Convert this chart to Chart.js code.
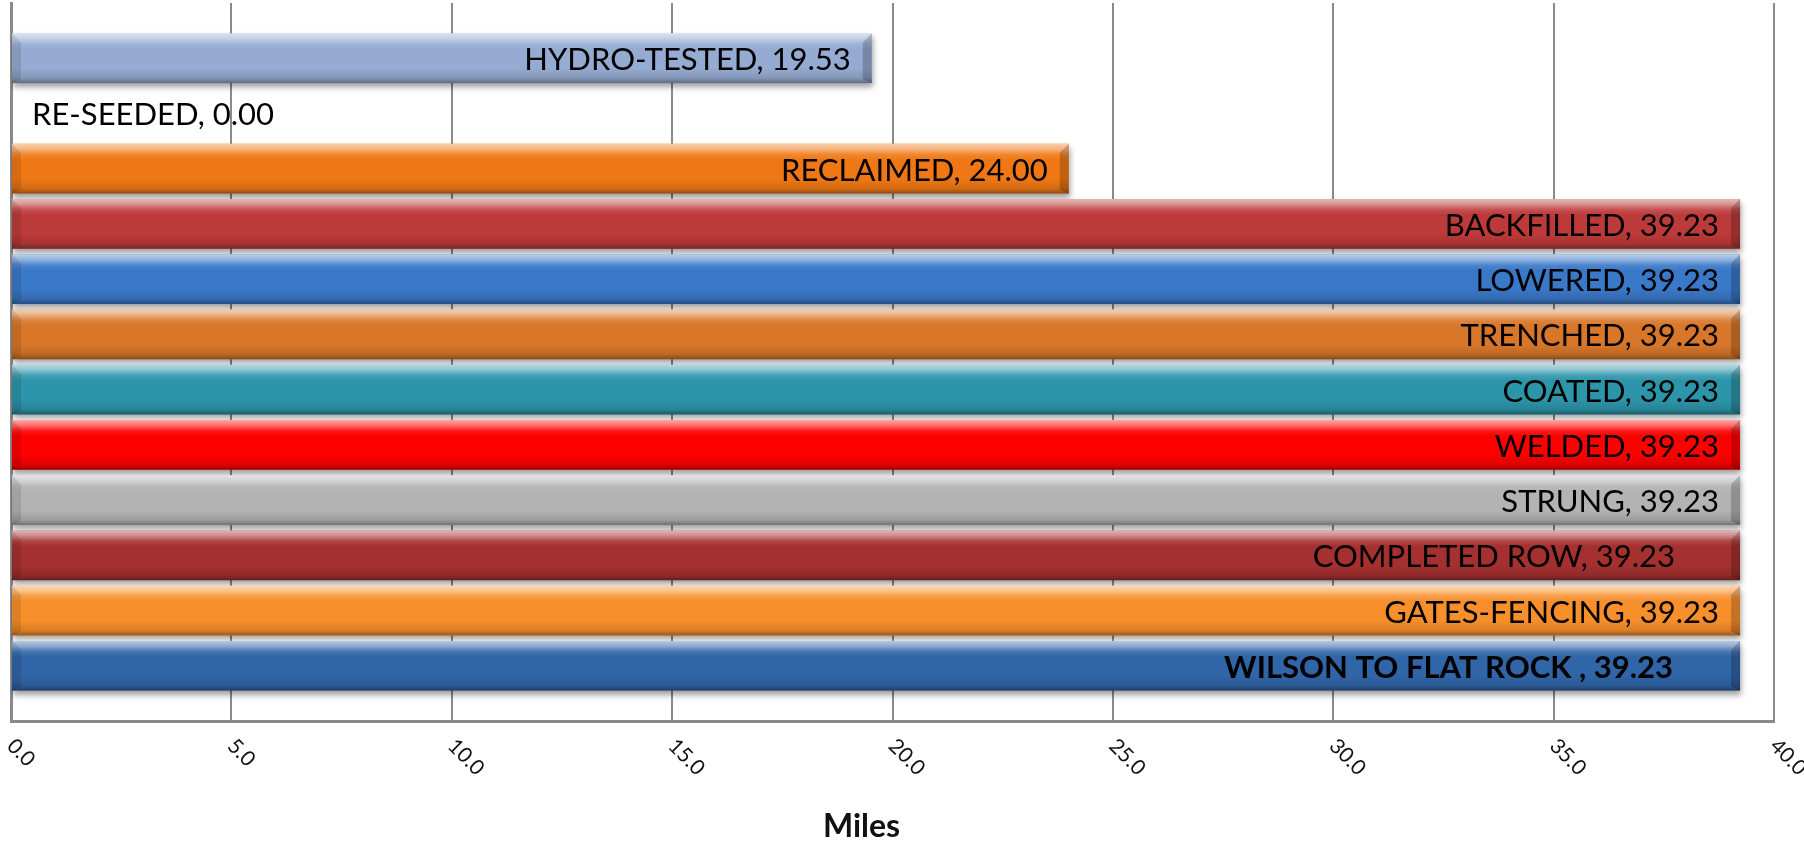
<!DOCTYPE html>
<html>
<head>
<meta charset="utf-8">
<title>Wilson to Flat Rock — progress</title>
<script src="https://cdn.jsdelivr.net/npm/chart.js@4.4.1/dist/chart.umd.min.js"></script>
<style>
  html, body { margin: 0; padding: 0; background: #fff; }
  #wrap { position: relative; width: 1804px; height: 841px; }
</style>
</head>
<body>
<div id="wrap"><canvas id="chart"></canvas></div>
<script>
// ---- Data, top to bottom as in the chart ----
const categories = [
  'HYDRO-TESTED', 'RE-SEEDED', 'RECLAIMED', 'BACKFILLED', 'LOWERED', 'TRENCHED',
  'COATED', 'WELDED', 'STRUNG', 'COMPLETED ROW', 'GATES-FENCING', 'WILSON TO FLAT ROCK '
];
const miles = [19.53, 0.00, 24.00, 39.23, 39.23, 39.23, 39.23, 39.23, 39.23, 39.23, 39.23, 39.23];
const barColors = [
  '#95abd1', '#95abd1', '#f07814', '#bd3a3a', '#3a78c8', '#d8772a',
  '#2c95aa', '#fe0000', '#b3b3b3', '#a53030', '#f78f2b', '#3065a8'
];
const xTicks = [0, 5, 10, 15, 20, 25, 30, 35, 40];
const axisTitle = 'Miles';

const FONT = 'Lato, "Open Sans", sans-serif';
const GRID = '#8a8a8a';

// blank slot above and below so bars sit half a row in from the plot edges
const rowLabels = ['', ...categories, ''];
const rowValues = [null, ...miles, null];
const rowColors = ['#fff', ...barColors, '#fff'];

// ---- Bar shading: drop shadow + bevel overlay ----
const bevelPlugin = {
  id: 'bevel',
  beforeDatasetsDraw(chart) {
    const ctx = chart.ctx;
    ctx.save();
    ctx.shadowColor = 'rgba(0,0,0,0.38)';
    ctx.shadowBlur = 6;
    ctx.shadowOffsetY = 4;
    ctx.shadowOffsetX = 1;
  },
  afterDatasetsDraw(chart) {
    const ctx = chart.ctx;
    ctx.restore();
    chart.getDatasetMeta(0).data.forEach((bar, i) => {
      if (rowValues[i] == null) return;
      const { x, y, base, height } = bar.getProps(['x', 'y', 'base', 'height'], true);
      const len = x - base;
      if (len < 1) return;
      const top = y - height / 2, bot = y + height / 2;
      const g = ctx.createLinearGradient(0, top, 0, bot);
      g.addColorStop(0, 'rgba(255,255,255,0.65)');
      g.addColorStop(0.1, 'rgba(255,255,255,0.45)');
      g.addColorStop(0.22, 'rgba(255,255,255,0.10)');
      g.addColorStop(0.32, 'rgba(255,255,255,0)');
      g.addColorStop(0.7, 'rgba(0,0,0,0)');
      g.addColorStop(0.9, 'rgba(0,0,0,0.12)');
      g.addColorStop(1, 'rgba(0,0,0,0.38)');
      ctx.save();
      ctx.fillStyle = g;
      ctx.fillRect(base, top, len, height);
      const b = Math.min(9, len / 2);
      // left end face
      ctx.fillStyle = 'rgba(0,0,0,0.10)';
      ctx.beginPath();
      ctx.moveTo(base, top); ctx.lineTo(base + b, top + b);
      ctx.lineTo(base + b, bot - 4); ctx.lineTo(base, bot);
      ctx.closePath(); ctx.fill();
      // right end face
      ctx.fillStyle = 'rgba(0,0,0,0.20)';
      ctx.beginPath();
      ctx.moveTo(x, top); ctx.lineTo(x - b, top + b);
      ctx.lineTo(x - b, bot - 4); ctx.lineTo(x, bot);
      ctx.closePath(); ctx.fill();
      ctx.restore();
    });
  }
};

// ---- Data labels "NAME, value" inside the bar end ----
const labelPlugin = {
  id: 'barLabels',
  afterDatasetsDraw(chart, args, opts) {
    const ctx = chart.ctx;
    ctx.save();
    ctx.fillStyle = '#000';
    ctx.textBaseline = 'alphabetic';
    chart.getDatasetMeta(0).data.forEach((bar, i) => {
      if (rowValues[i] == null) return;
      const k = i - 1;
      const { x, y, base } = bar.getProps(['x', 'y', 'base'], true);
      const text = categories[k] + ', ' + miles[k].toFixed(2);
      ctx.font = (k === opts.boldIndex ? 'bold ' : '') + opts.size + 'px ' + FONT;
      const w = ctx.measureText(text).width;
      const shift = opts.nudge[k] || 0;
      const ty = y + opts.drop;
      if (w + opts.pad * 2 < x - base) {
        ctx.textAlign = 'right';
        ctx.fillText(text, x - opts.pad - shift, ty);
      } else {
        ctx.textAlign = 'left';
        ctx.fillText(text, x + opts.pad, ty);
      }
    });
    ctx.restore();
  }
};

// ---- X tick labels turned 45° clockwise + axis title ----
const axisPlugin = {
  id: 'axisText',
  afterDraw(chart) {
    const ctx = chart.ctx;
    const sx = chart.scales.x;
    const area = chart.chartArea;
    ctx.save();
    ctx.fillStyle = '#111';
    ctx.font = '21px ' + FONT;
    ctx.textAlign = 'left';
    ctx.textBaseline = 'top';
    sx.ticks.forEach(t => {
      const px = sx.getPixelForValue(t.value);
      ctx.save();
      ctx.translate(px + 7, area.bottom + 14);
      ctx.rotate(Math.PI / 4);
      ctx.fillText(t.value.toFixed(1), 0, 0);
      ctx.restore();
    });
    ctx.font = 'bold 32px ' + FONT;
    ctx.textAlign = 'center';
    ctx.textBaseline = 'alphabetic';
    ctx.fillText(axisTitle, (area.left + area.right) / 2 - 31, area.bottom + 116);
    ctx.restore();
  }
};

new Chart(document.getElementById('chart'), {
  type: 'bar',
  data: {
    labels: rowLabels,
    datasets: [{
      data: rowValues,
      backgroundColor: rowColors,
      borderWidth: 0,
      categoryPercentage: 1,
      barPercentage: 0.9
    }]
  },
  options: {
    indexAxis: 'y',
    responsive: true,
    maintainAspectRatio: false,
    animation: false,
    layout: { padding: { left: 11, right: 30, top: 3, bottom: 120 } },
    plugins: {
      legend: { display: false },
      tooltip: { enabled: false },
      barLabels: { size: 31, pad: 21, drop: 12, boldIndex: 11, nudge: { 9: 44, 11: 46 } }
    },
    scales: {
      x: {
        type: 'linear',
        min: 0,
        max: 40,
        afterBuildTicks: s => { s.ticks = xTicks.map(v => ({ value: v })); },
        ticks: { display: false },
        grid: { color: GRID, lineWidth: 2, drawTicks: false },
        border: { display: true, color: GRID, width: 3 }
      },
      y: {
        offset: false,
        ticks: { display: false },
        grid: { display: false, drawTicks: false },
        border: { display: true, color: GRID, width: 3 }
      }
    }
  },
  plugins: [bevelPlugin, labelPlugin, axisPlugin]
});
</script>
</body>
</html>
